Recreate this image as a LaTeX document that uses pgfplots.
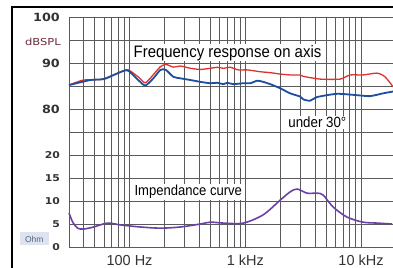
\documentclass[border=0pt]{standalone}
\usepackage{fontspec}
\setmainfont{Liberation Sans}
\newfontfamily\condfont[FakeStretch=0.9]{Liberation Sans}
\newfontfamily\numfont[FakeStretch=1.13]{DejaVu Sans}
\newfontfamily\ohmnumfont[FakeStretch=1.15]{DejaVu Sans}
\newfontfamily\unitfont[FakeStretch=1.2]{DejaVu Sans}
\usepackage{pgfplots}
\pgfplotsset{compat=1.18}
\definecolor{redc}{HTML}{E0322C}
\definecolor{bluec}{HTML}{1F4EA0}
\definecolor{purc}{HTML}{6A42A6}
\definecolor{gridc}{HTML}{5A5A5A}
\definecolor{labc}{HTML}{333333}
\definecolor{ohmbg}{HTML}{DDE3F0}
\definecolor{dbc}{HTML}{6B2B3B}
\newcommand\dbl[1]{{\numfont\bfseries\fontsize{11.3bp}{12bp}\selectfont #1}}
\newcommand\ohl[1]{{\ohmnumfont\bfseries\fontsize{9.4bp}{10bp}\selectfont #1}}
\begin{document}
\begin{tikzpicture}[x=1bp,y=1bp]
\clip (0,0) rectangle (393,268);
\fill[white] (0,0) rectangle (393,268);
\draw[line width=1.4bp] (12,-2) -- (12,261) -- (395,261);
\begin{axis}[at={(69bp,21bp)}, anchor=south west, scale only axis,
  width=324bp, height=230bp,
  xmode=log, xmin=30, xmax=18880, ymin=0, ymax=50,
  axis line style={draw=none},
  xtick={100,1000,10000}, xticklabels={100 Hz,1 kHz,10 kHz},
  minor xtick={30,40,50,60,70,80,90,200,300,400,500,600,700,800,900,2000,3000,4000,5000,6000,7000,8000,9000},
  ytick={0,5,10,15,20,25,30,35,40,45,50},
  yticklabels={\ohl{0},\ohl{5},\ohl{10},\ohl{15},\ohl{20},,\dbl{80},,\dbl{90},,\dbl{100}},
  grid=both,
  major grid style={gridc, line width=0.7bp},
  minor grid style={gridc, line width=0.7bp},
  major tick length=0pt, minor tick length=0pt,
  xticklabel style={font=\fontsize{14.5bp}{16bp}\selectfont, text=labc, inner sep=0pt, anchor=north, yshift=-8bp},
  yticklabel style={text=labc, inner sep=0pt, anchor=east, xshift=-9bp},
  clip=false,
]
% on axis (dB - 50)
\addplot[redc, line width=1.3bp, smooth, tension=0.4] coordinates {
(30,35.2) (40,36.3) (56,36.4) (73,37.4) (89,38.3) (98,38.5) (120,36.9) (137,35.7)
(161,37.5) (185,39.2) (206,39.7) (239,39.1) (275,39.35) (336,38.85) (409,38.6)
(499,38.85) (573,39.07) (646,38.85) (742,39.07) (870,38.5) (1040,38.5) (1346,38.1)
(1643,37.9) (2004,37.6) (2444,37.4) (2979,37.4) (3162,37.1) (4436,36.5) (6590,36.5)
(8035,37.4) (10400,37.4) (13740,37.8) (16110,37.0) (18880,34.85)
};
% under 30 deg
\addplot[bluec, line width=1.8bp, smooth, tension=0.4] coordinates {
(30,35.2) (46,36.3) (60,36.5) (73,37.4) (89,38.3) (98,38.3) (120,36.2) (137,35.1)
(161,36.7) (185,38.5) (206,38.5) (239,37.0) (275,36.67) (336,36.3) (409,35.9)
(499,35.6) (573,35.7) (646,35.4) (700,35.7) (788,35.4) (961,35.6) (1104,35.6)
(1268,36.15) (1428,35.9) (1643,35.4) (2004,34.5) (2444,33.4) (2979,32.7) (3162,32.1)
(3631,31.8) (4175,32.6) (6209,33.3) (9240,33.0) (11960,32.8) (15480,33.4) (18880,33.8)
};
% impedance (Ohm)
\addplot[purc, line width=1.6bp, smooth, tension=0.5] coordinates {
(30,7.4) (32.3,5.4) (35.6,4.1) (40,3.9) (49,4.35) (64.6,5.2) (83.6,4.8) (124,4.35)
(185,4.1) (275,4.35) (409,5.0) (499,5.4) (646,5.2) (961,5.2) (1428,7.0) (2004,10.2)
(2444,12.0) (2807,12.6) (3422,11.7) (4175,11.7) (4702,11.3) (5738,8.7) (7570,6.5)
(10400,5.4) (13740,5.2) (18500,5.0)
};
\node[anchor=base west, fill=white, inner sep=1bp] at (axis cs:106,41.3) {\condfont\fontsize{16.6bp}{18bp}\selectfont Frequency response on axis};
\node[anchor=base west, fill=white, inner sep=1bp] at (axis cs:2301,25.9) {\condfont\fontsize{14.8bp}{16bp}\selectfont under 30°};
\node[anchor=base west, fill=white, inner sep=1bp] at (axis cs:108,11.15) {\condfont\fontsize{14.5bp}{16bp}\selectfont Impendance curve};
\node[anchor=east, inner sep=0pt, text=dbc] at (rel axis cs:-0.0247,0.891) {\unitfont\fontsize{9.6bp}{10bp}\selectfont dBSPL};
\node[fill=ohmbg, minimum width=29bp, minimum height=13bp, inner sep=0pt, text={rgb,255:red,85;green,96;blue,122}] at (rel axis cs:-0.107,0.0348) {\fontsize{8.5bp}{9bp}\selectfont Ohm};
\end{axis}
\end{tikzpicture}
\end{document}
